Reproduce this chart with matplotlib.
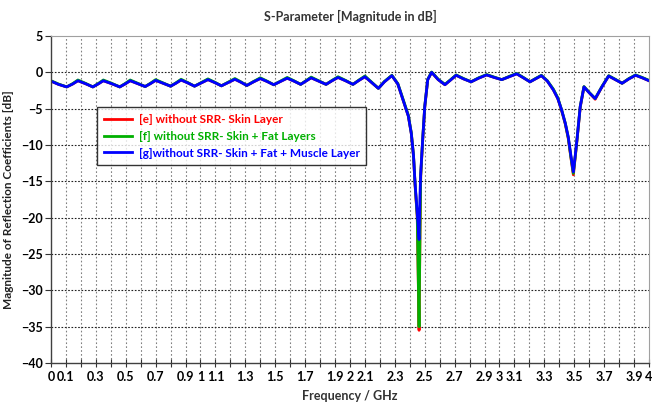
import numpy as np
import matplotlib
matplotlib.use("Agg")
from matplotlib import pyplot as plt

plt.rcParams["font.family"] = ["Lato", "DejaVu Sans"]

# frequency points (GHz) and |S11| in dB for the three cases
freq = [0.00, 0.05, 0.105, 0.145, 0.18, 0.23, 0.28, 0.315, 0.35, 0.405,
        0.46, 0.495, 0.53, 0.58, 0.63, 0.665, 0.70, 0.75, 0.80, 0.835,
        0.87, 0.915, 0.96, 1.005, 1.05, 1.095, 1.14, 1.185, 1.23, 1.27,
        1.31, 1.355, 1.40, 1.445, 1.49, 1.535, 1.58, 1.625, 1.67, 1.705,
        1.74, 1.79, 1.84, 1.88, 1.92, 1.97, 2.02, 2.06, 2.10, 2.145,
        2.19, 2.23, 2.28, 2.32, 2.355, 2.39, 2.41, 2.425, 2.435, 2.45,
        2.462, 2.468, 2.473, 2.486, 2.50, 2.52, 2.546, 2.59, 2.635, 2.67,
        2.71, 2.76, 2.81, 2.86, 2.914, 2.965, 3.015, 3.065, 3.115, 3.16,
        3.204, 3.24, 3.28, 3.32, 3.36, 3.39, 3.416, 3.44, 3.46, 3.478,
        3.494, 3.508, 3.52, 3.54, 3.565, 3.60, 3.64, 3.685, 3.73, 3.775,
        3.82, 3.865, 3.91, 3.955, 4.00]

s_skin = [-1.2, -1.65, -2.0, -1.6, -1.15, -1.55, -2.0, -1.6, -1.15, -1.55,
          -2.0, -1.6, -1.15, -1.55, -1.95, -1.55, -1.1, -1.5, -1.9, -1.5,
          -1.05, -1.45, -1.9, -1.45, -1.0, -1.4, -1.85, -1.4, -0.95, -1.35,
          -1.8, -1.3, -0.85, -1.25, -1.7, -1.25, -0.8, -1.2, -1.65, -1.2,
          -0.75, -1.2, -1.65, -1.15, -0.7, -1.15, -1.65, -1.1, -0.6, -1.4,
          -2.2, -1.3, -0.45, -1.6, -3.8, -6.0, -8.4, -11.6, -15.4, -20.0,
          -35.5, -22.5, -14.3, -9.4, -4.8, -1.0, 0.0, -1.0, -1.7, -1.1,
          -0.4, -0.9, -1.3, -0.8, -0.35, -0.7, -1.0, -0.6, -0.2, -0.75,
          -1.3, -0.9, -0.45, -1.2, -2.4, -3.6, -5.3, -7.1, -9.1, -11.8,
          -14.1, -11.4, -9.0, -4.8, -2.0, -2.8, -3.7, -2.0, -0.5, -1.0,
          -1.5, -0.9, -0.4, -0.75, -1.15]

s_skin_fat = [-1.15, -1.6, -2.0, -1.55, -1.05, -1.5, -2.0, -1.55, -1.05, -1.5,
              -2.0, -1.55, -1.05, -1.5, -1.95, -1.5, -1.0, -1.45, -1.9, -1.45,
              -0.95, -1.4, -1.9, -1.4, -0.9, -1.35, -1.85, -1.35, -0.85, -1.3,
              -1.8, -1.25, -0.75, -1.2, -1.7, -1.2, -0.7, -1.15, -1.65, -1.15,
              -0.65, -1.15, -1.65, -1.1, -0.6, -1.1, -1.65, -1.05, -0.5, -1.35,
              -2.2, -1.25, -0.4, -1.55, -3.7, -5.9, -8.3, -11.5, -15.3, -19.8,
              -35.0, -22.0, -14.2, -9.3, -4.7, -0.95, 0.05, -0.95, -1.65, -1.05,
              -0.35, -0.85, -1.3, -0.75, -0.3, -0.65, -1.0, -0.55, -0.15, -0.7,
              -1.3, -0.85, -0.4, -1.15, -2.3, -3.5, -5.2, -7.0, -9.0, -11.7,
              -13.9, -11.3, -8.9, -4.7, -1.95, -2.75, -3.6, -1.95, -0.45, -0.95,
              -1.5, -0.85, -0.35, -0.7, -1.1]

s_skin_fat_muscle = [-1.2, -1.65, -2.0, -1.6, -1.15, -1.55, -2.0, -1.6, -1.15, -1.55,
                     -2.0, -1.6, -1.15, -1.55, -1.95, -1.55, -1.1, -1.5, -1.9, -1.5,
                     -1.05, -1.45, -1.9, -1.45, -1.0, -1.4, -1.85, -1.4, -0.95, -1.35,
                     -1.8, -1.3, -0.85, -1.25, -1.7, -1.25, -0.8, -1.2, -1.65, -1.2,
                     -0.75, -1.2, -1.65, -1.15, -0.7, -1.15, -1.65, -1.1, -0.6, -1.4,
                     -2.2, -1.3, -0.45, -1.6, -3.8, -6.0, -8.4, -11.5, -15.2, -19.4,
                     -23.0, -17.0, -13.9, -9.3, -4.7, -1.0, 0.0, -1.0, -1.7, -1.1,
                     -0.4, -0.9, -1.3, -0.8, -0.35, -0.7, -1.0, -0.6, -0.2, -0.75,
                     -1.3, -0.9, -0.45, -1.2, -2.4, -3.6, -5.2, -7.0, -8.9, -11.5,
                     -13.7, -11.2, -8.9, -4.7, -2.0, -2.8, -3.6, -2.0, -0.5, -1.0,
                     -1.5, -0.9, -0.4, -0.75, -1.15]

labels = ["[e] without SRR- Skin Layer",
          "[f] without SRR- Skin + Fat Layers",
          "[g]without SRR- Skin + Fat + Muscle Layer"]
colors = ["#ff0000", "#00b000", "#0000ff"]

xticks = np.round(np.arange(0, 4.01, 0.1), 1)
shown = {0.0, 0.1, 0.3, 0.5, 0.7, 0.9, 1.0, 1.1, 1.3, 1.5, 1.7, 1.9, 2.0, 2.1,
         2.3, 2.5, 2.7, 2.9, 3.0, 3.1, 3.3, 3.5, 3.7, 3.9, 4.0}
yticks = np.arange(-40, 6, 5)

fig = plt.figure(figsize=(6.52, 4.05), dpi=100)
ax = fig.add_axes([0.0782, 0.1037, 0.9172, 0.8073])

for s, c, lab in zip([s_skin, s_skin_fat, s_skin_fat_muscle], colors, labels):
    ax.plot(freq, s, color=c, lw=2.0, label=lab, solid_joinstyle="round")

ax.set_xlim(0, 4)
ax.set_ylim(-40, 5)
ax.set_xticks(xticks)
ax.set_xticklabels([("%g" % t) if t in shown else "" for t in xticks])
ax.set_yticks(yticks)

for t in xticks[1:-1]:
    ax.axvline(t, color="#808080", lw=0.8, ls=(0, (1.5, 2.0)), zorder=0)
for t in yticks[1:-1]:
    ax.axhline(t, color="#202020", lw=0.8, ls=(0, (1.5, 1.5)), zorder=0)

ax.tick_params(axis="x", direction="inout", length=6, width=0.8, pad=3,
               labelsize=9, colors="#333333")
ax.tick_params(axis="y", direction="out", length=4, width=0.8, pad=2,
               labelsize=9, colors="#333333")
for lab in ax.get_xticklabels() + ax.get_yticklabels():
    lab.set_fontweight("bold")
    lab.set_color("black")

for side in ["left", "bottom"]:
    ax.spines[side].set_color("#404040")
    ax.spines[side].set_linewidth(1.0)
for side in ["top", "right"]:
    ax.spines[side].set_color("#a0a0a0")
    ax.spines[side].set_linewidth(0.8)

ax.set_title("S-Parameter [Magnitude in dB]", fontsize=9, fontweight="bold",
             color="#333333", pad=11)
ax.set_xlabel("Frequency / GHz", fontsize=9, fontweight="bold", color="#333333",
              labelpad=5)
ax.set_ylabel("Magnitude of Reflection Coefficients [dB]", fontsize=8.5,
              fontweight="bold", color="#222222", labelpad=5)

leg = ax.legend(loc="upper left", bbox_to_anchor=(0.077, 0.782),
                prop={"weight": "bold", "size": 8.5}, frameon=True, fancybox=False,
                handlelength=2.4, handletextpad=0.6, borderpad=0.55,
                labelspacing=0.5, borderaxespad=0)
leg.get_frame().set_edgecolor("black")
leg.get_frame().set_linewidth(1.0)
for txt, c in zip(leg.get_texts(), colors):
    txt.set_color(c)

fig.savefig("out.png", dpi=100)
